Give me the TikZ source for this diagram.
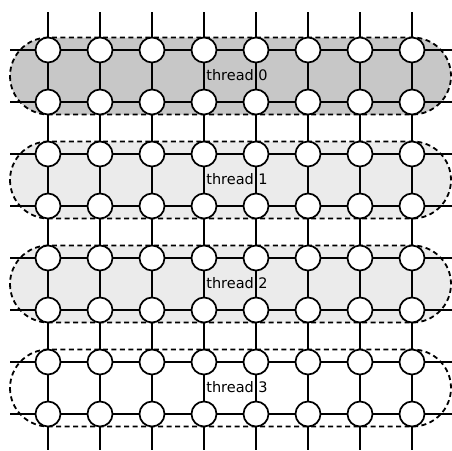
\documentclass[tikz,border=0pt]{standalone}
\usepackage{fontspec}
\setsansfont{DejaVu Sans}
\usetikzlibrary{positioning}

\begin{document}
\begin{tikzpicture}[x=1pt, y=-1pt]
    % Define styles
    \tikzstyle{cell} = [circle, draw, fill=white, line width=1.7pt, minimum size=25pt, inner sep=0pt]
    \tikzstyle{link} = [line width=2pt]
    \tikzstyle{block} = [dash pattern=on 5pt off 3.5pt, line width=1.8pt, rounded corners=38.5pt]
    \tikzstyle{tag} = [font=\sffamily\fontsize{14.5}{17}\selectfont, inner sep=0pt, anchor=base]
    \useasboundingbox (0,0) rectangle (452,450);

    % Thread regions
    \foreach \t/\tone in {0/black!22, 1/black!8, 2/black!8, 3/white} {
        \draw[block, fill=\tone] (10, 37.5+104*\t) rectangle (451, 114.5+104*\t);
    }

    % Nodes
    \foreach \i in {0,...,7} {
        \foreach \j in {0,...,7} {
            \node[cell] (n\i\j) at (48+52*\j, 50+52*\i) {};
        }
        \coordinate (west\i) at (10, 50+52*\i);
        \coordinate (east\i) at (452, 50+52*\i);
        \coordinate (north\i) at (48+52*\i, 12);
        \coordinate (south\i) at (48+52*\i, 450);
    }

    % Connections
    \foreach \i in {0,...,7} {
        \foreach \j [count=\k] in {0,...,6} {
            \draw[link] (n\i\j) -- (n\i\k);
            \draw[link] (n\j\i) -- (n\k\i);
        }
        \draw[link] (west\i) -- (n\i0);
        \draw[link] (n\i7) -- (east\i);
        \draw[link] (north\i) -- (n0\i);
        \draw[link] (n7\i) -- (south\i);
    }

    % Labels
    \foreach \t in {0,...,3} {
        \node[tag] (thread\t) at (237, 80+104*\t) {thread \t};
    }
\end{tikzpicture}
\end{document}
